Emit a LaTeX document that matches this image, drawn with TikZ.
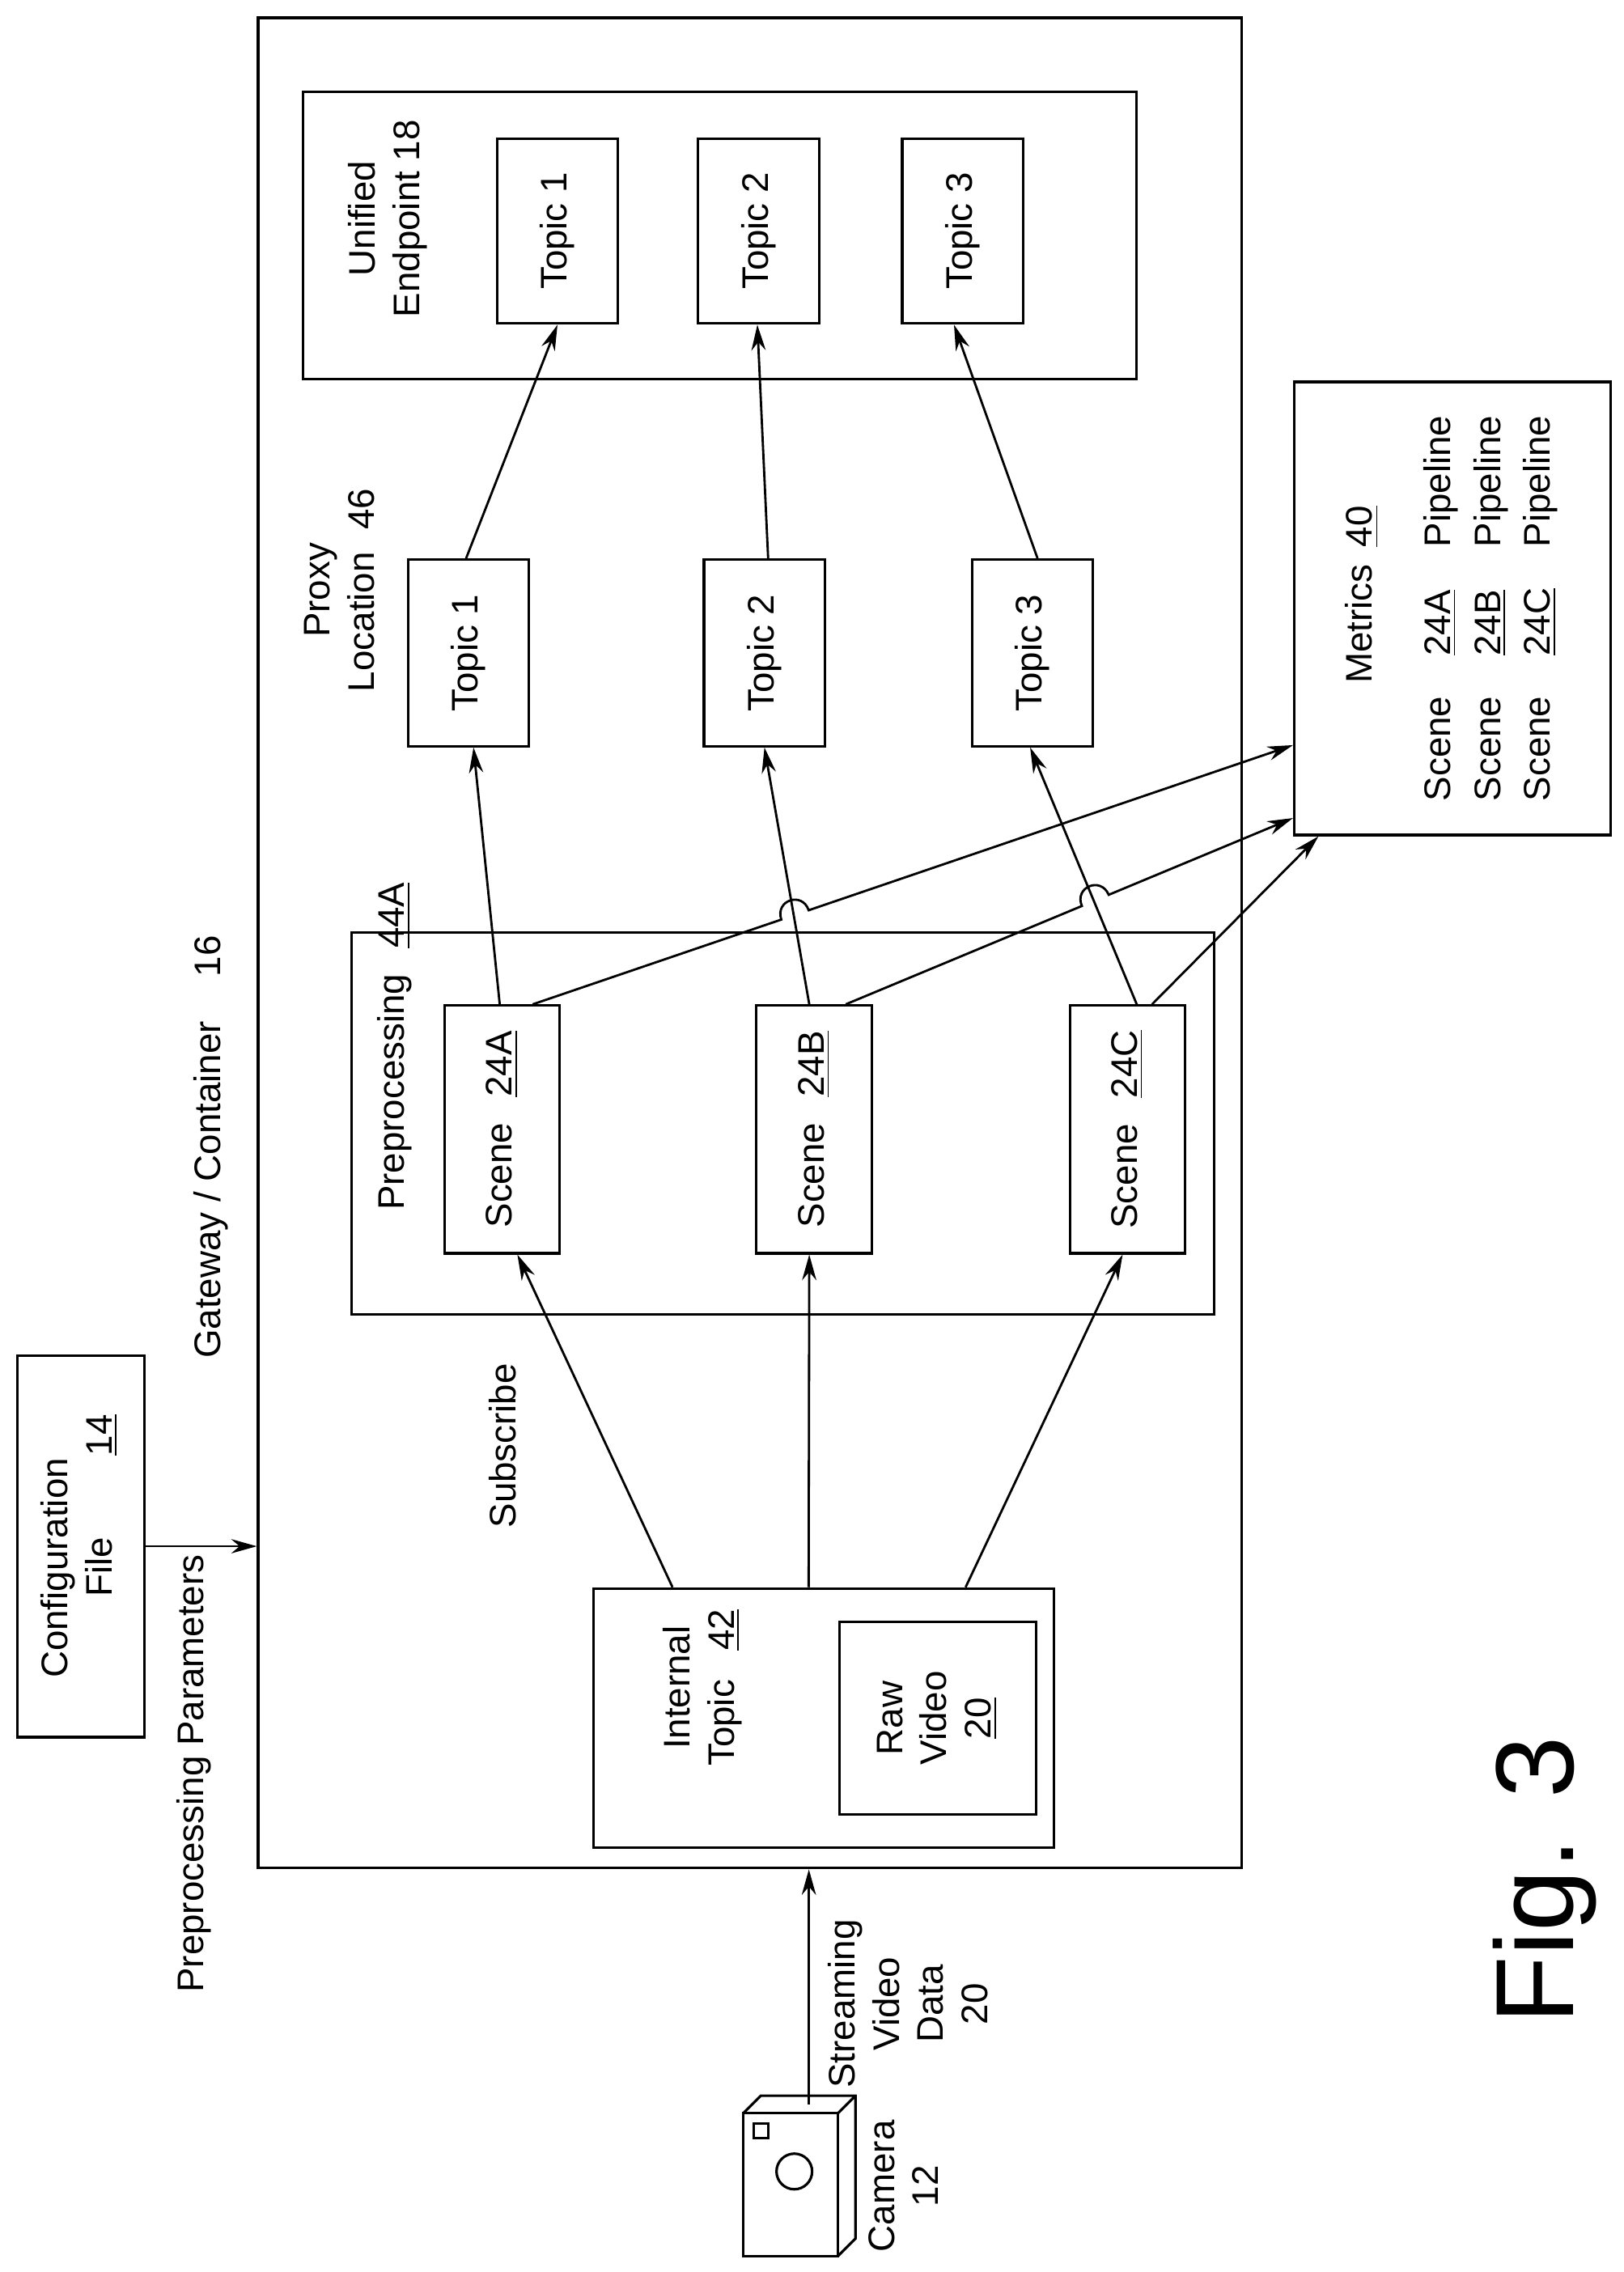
\documentclass[tikz,border=0pt]{standalone}
\usepackage{fontspec}
\setmainfont{Liberation Sans}
\usetikzlibrary{arrows.meta,calc}
\begin{document}
\begin{tikzpicture}[x=0.018cm,y=-0.018cm,
  box/.style={draw,line width=0.9pt,inner sep=0pt,font=\fontsize{13}{15.5}\selectfont},
  lbl/.style={font=\fontsize{13}{15.5}\selectfont,align=center,rotate=90},
  arr/.style={line width=0.8pt,-{Stealth[length=9pt,width=5pt]}}]
\useasboundingbox (0,0) rectangle (1114,1559);
% boxes
\node[box,minimum width=12.15cm,minimum height=22.86cm] (gw) at (514.5,647) {};
\node[box,minimum width=10.296cm,minimum height=3.546cm] (ue) at (494,161.5) {};
\node[box,minimum width=10.656cm,minimum height=4.716cm] (pp) at (537,771) {};
\node[box,minimum width=1.494cm,minimum height=2.286cm] (e1) at (382.5,158.5) {\rotatebox{90}{Topic 1}};
\node[box,minimum width=1.494cm,minimum height=2.286cm] (e2) at (520.5,158.5) {\rotatebox{90}{Topic 2}};
\node[box,minimum width=1.494cm,minimum height=2.286cm] (e3) at (660.5,158.5) {\rotatebox{90}{Topic 3}};
\node[box,minimum width=1.494cm,minimum height=2.304cm] (p1) at (321.5,448) {\rotatebox{90}{Topic 1}};
\node[box,minimum width=1.494cm,minimum height=2.304cm] (p2) at (524.5,448) {\rotatebox{90}{Topic 2}};
\node[box,minimum width=1.494cm,minimum height=2.304cm] (p3) at (708.5,448) {\rotatebox{90}{Topic 3}};
\node[box,minimum width=1.422cm,minimum height=3.06cm] (sA) at (344.5,775) {\rotatebox{90}{Scene\hspace{0.7em}\underline{24A}}};
\node[box,minimum width=1.422cm,minimum height=3.06cm] (sB) at (558.5,775) {\rotatebox{90}{Scene\hspace{0.7em}\underline{24B}}};
\node[box,minimum width=1.422cm,minimum height=3.06cm] (sC) at (773.5,775) {\rotatebox{90}{Scene\hspace{0.7em}\underline{24C}}};
\node[box,minimum width=5.688cm,minimum height=3.204cm] (it) at (565,1179) {};
\node[box,minimum width=2.43cm,minimum height=2.376cm] (rv) at (643.5,1179) {\rotatebox{90}{\begin{tabular}{@{}c@{}}Raw\\Video\\\underline{20}\end{tabular}}};
\node[box,minimum width=3.906cm,minimum height=5.598cm] (met) at (996.5,417.5) {\rotatebox{90}{\begin{tabular}{@{}l@{\hspace{1.1em}}l@{\hspace{1.1em}}l@{}}\multicolumn{2}{@{}r}{Metrics\hspace{0.6em}} & \underline{40}\\[12pt] Scene & \underline{24A} & Pipeline\\[2pt] Scene & \underline{24B} & Pipeline\\[2pt] Scene & \underline{24C} & Pipeline\end{tabular}}};
\node[box,minimum width=1.566cm,minimum height=4.716cm] (cf) at (55.5,1061) {\rotatebox{90}{\begin{tabular}{@{}l@{}}Configuration\\\hspace{2.2em}File\hspace{2.2em}\underline{14}\end{tabular}}};
% labels
\node[lbl] (lgw) at (145,787) {Gateway / Container\hspace{1.2em}16};
\node[lbl] (lpx) at (233,405) {Proxy\\Location\hspace{0.6em}46};
\node[lbl] (lue) at (266,150) {Unified\\Endpoint 18};
\node[lbl] (lpp) at (271,718) {Preprocessing\hspace{0.7em}\underline{44A}};
\node[lbl] (lit) at (482,1158) {Internal\hspace{1.2em}\\Topic\hspace{0.8em}\underline{42}};
\node[lbl] (lsub) at (345,992) {Subscribe};
\node[lbl] (lppar) at (133,1217) {Preprocessing Parameters};
\node[lbl] (lsv) at (623,1375) {Streaming\\Video\\Data\\20};
\node[lbl] (lcam) at (620,1500) {Camera\\12};
\node[rotate=90,font=\fontsize{39}{45}\selectfont] (fig) at (1060,1290) {Fig. 3};
% camera
\draw[line width=0.9pt] (510,1450) rectangle (575,1548);
\draw[line width=0.9pt] (510,1450) -- (522,1438) -- (587,1438) -- (587,1536) -- (575,1548) (575,1450) -- (587,1438);
\draw[line width=0.9pt] (545,1490) circle[radius=0.22cm];
\draw[line width=0.9pt] (517,1457) rectangle (527,1467);
\coordinate (camtop) at (555,1444);
\draw[arr] (camtop) -- (gw.south -| camtop);
\draw[arr] (cf.east) -- (cf.east -| gw.west);
% subscribe arrows
\draw[arr] ($(it.north west)!0.174!(it.north east)$) -- ($(sA.south west)!0.63!(sA.south east)$);
\draw[arr] ($(it.north west)!0.468!(it.north east)$) -- ($(sB.south west)!0.46!(sB.south east)$);
\draw[arr] ($(it.north west)!0.807!(it.north east)$) -- ($(sC.south west)!0.46!(sC.south east)$);
% scene -> proxy
\draw[arr] ($(sA.north west)!0.48!(sA.north east)$) -- ($(p1.south west)!0.54!(p1.south east)$);
\draw[arr] ($(sB.north west)!0.46!(sB.north east)$) -- ($(p2.south west)!0.5!(p2.south east)$);
\draw[arr] ($(sC.north west)!0.58!(sC.north east)$) -- ($(p3.south west)!0.48!(p3.south east)$);
% proxy -> endpoint
\draw[arr] ($(p1.north west)!0.48!(p1.north east)$) -- ($(e1.south west)!0.5!(e1.south east)$);
\draw[arr] ($(p2.north west)!0.53!(p2.north east)$) -- ($(e2.south west)!0.49!(e2.south east)$);
\draw[arr] ($(p3.north west)!0.54!(p3.north east)$) -- ($(e3.south west)!0.43!(e3.south east)$);
% scene -> metrics with hops
\coordinate (a1) at ($(sA.north west)!0.76!(sA.north east)$);
\coordinate (a2) at ($(met.north west)!0.80!(met.south west)$);
\draw[arr] (a1) -- ($(a1)!0.327!(a2)$) to[out=108.8,in=108.8,looseness=1.8] ($(a1)!0.363!(a2)$) -- (a2);
\coordinate (b1) at ($(sB.north west)!0.77!(sB.north east)$);
\coordinate (b2) at ($(met.north west)!0.96!(met.south west)$);
\draw[arr] (b1) -- ($(b1)!0.528!(b2)$) to[out=112.9,in=112.9,looseness=1.8] ($(b1)!0.588!(b2)$) -- (b2);
\draw[arr] ($(sC.north west)!0.71!(sC.north east)$) -- ($(met.south west)!0.08!(met.south east)$);
\end{tikzpicture}
\end{document}
